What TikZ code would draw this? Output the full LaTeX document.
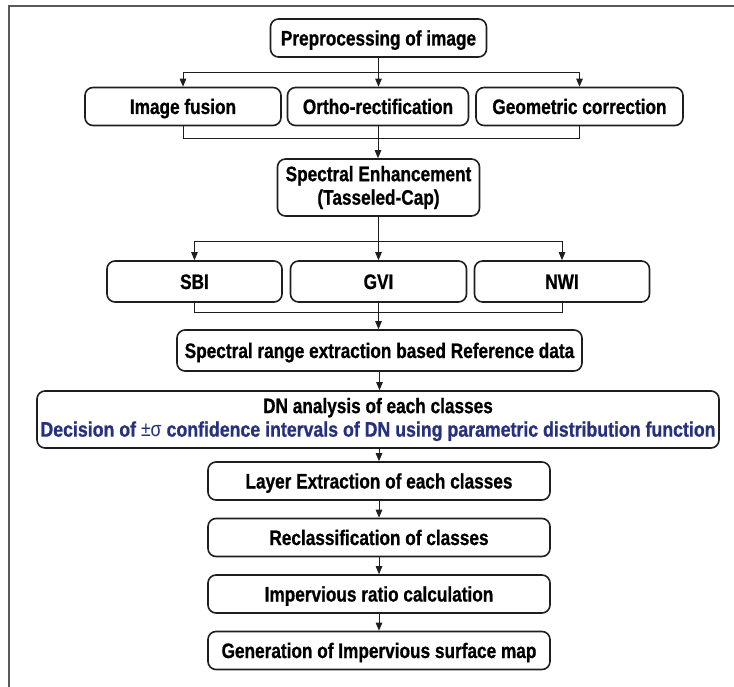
\documentclass[tikz,border=0pt]{standalone}
\usepackage{fontspec}
\usepackage{graphicx}
\setmainfont{Liberation Sans}[FakeStretch=0.82, BoldFeatures={FakeBold=0.8}]
\usetikzlibrary{arrows.meta}
\definecolor{navy}{RGB}{38,48,128}
\definecolor{frame}{RGB}{90,90,90}
\definecolor{edge}{RGB}{30,30,30}
\tikzset{
  box/.style={draw=edge, line width=1.6pt, rounded corners=8pt, fill=white,
    inner sep=0pt, align=center, font=\fontsize{21}{23.5}\selectfont\bfseries},
  one/.style={text height=17pt, text depth=2pt},
  conn/.style={draw=edge, line width=0.9pt},
  arr/.style={conn, -{Triangle[length=8pt,width=6.5pt]}},
}
\begin{document}
\begin{tikzpicture}[x=1pt,y=-1pt]
\useasboundingbox (0,0) rectangle (734,687);
\draw[frame, line width=1.8pt] (9,687) -- (9,6) -- (734,6);

\node[box, one, minimum width=216pt, minimum height=38pt] (pre) at (378.5,38) {Preprocessing of image};
\node[box, one, minimum width=196pt, minimum height=38pt] (fus) at (183,106.5) {Image fusion};
\node[box, one, minimum width=181pt, minimum height=38pt] (ort) at (378,106.5) {Ortho-rectification};
\node[box, one, minimum width=207pt, minimum height=38pt] (geo) at (579.5,106.5) {Geometric correction};
\node[box, minimum width=202pt, minimum height=57pt] (se) at (378.5,187.5) {Spectral Enhancement\\(Tasseled-Cap)};
\node[box, one, minimum width=175pt, minimum height=41pt] (sbi) at (194.5,281.5) {SBI};
\node[box, one, minimum width=176pt, minimum height=41pt] (gvi) at (378.5,281.5) {GVI};
\node[box, one, minimum width=175pt, minimum height=41pt] (nwi) at (562,281.5) {NWI};
\node[box, one, minimum width=405pt, minimum height=41pt] (sre) at (379.5,350.5) {Spectral range extraction based Reference data};
\node[box, minimum width=682pt, minimum height=57pt] (dn) at (378,419.5) {DN analysis of each classes\\\textcolor{navy}{\scalebox{1.03}[1]{Decision of {\mdseries ±σ} confidence intervals of DN using parametric distribution function}}};
\node[box, one, minimum width=342pt, minimum height=38pt] (lay) at (379,481) {Layer Extraction of each classes};
\node[box, one, minimum width=342pt, minimum height=38pt] (rec) at (379,537.5) {Reclassification of classes};
\node[box, one, minimum width=342pt, minimum height=38pt] (imp) at (379,594) {Impervious ratio calculation};
\node[box, one, minimum width=342pt, minimum height=38pt] (gen) at (379,650.5) {Generation of Impervious surface map};

\coordinate (b1) at (378.5,72);
\coordinate (m1) at (378.5,138);
\coordinate (b2) at (378.5,241);
\coordinate (m2) at (378.5,312);

\draw[arr] (pre.south) -- (pre.south |- ort.north);
\draw[conn] (fus.north |- b1) -- (geo.north |- b1);
\draw[arr] (fus.north |- b1) -- (fus.north);
\draw[arr] (geo.north |- b1) -- (geo.north);
\draw[conn] (fus.south) -- (fus.south |- m1) -- (geo.south |- m1) -- (geo.south);
\draw[arr] (ort.south) -- (ort.south |- se.north);

\draw[arr] (se.south) -- (se.south |- gvi.north);
\draw[conn] (sbi.north |- b2) -- (nwi.north |- b2);
\draw[arr] (sbi.north |- b2) -- (sbi.north);
\draw[arr] (nwi.north |- b2) -- (nwi.north);
\draw[conn] (sbi.south) -- (sbi.south |- m2) -- (nwi.south |- m2) -- (nwi.south);
\draw[arr] (gvi.south) -- (gvi.south |- sre.north);

\draw[arr] (sre.south) -- (sre.south |- dn.north);
\draw[arr] (dn.south -| lay.north) -- (lay.north);
\draw[arr] (lay.south) -- (rec.north);
\draw[arr] (rec.south) -- (imp.north);
\draw[arr] (imp.south) -- (gen.north);
\end{tikzpicture}
\end{document}
